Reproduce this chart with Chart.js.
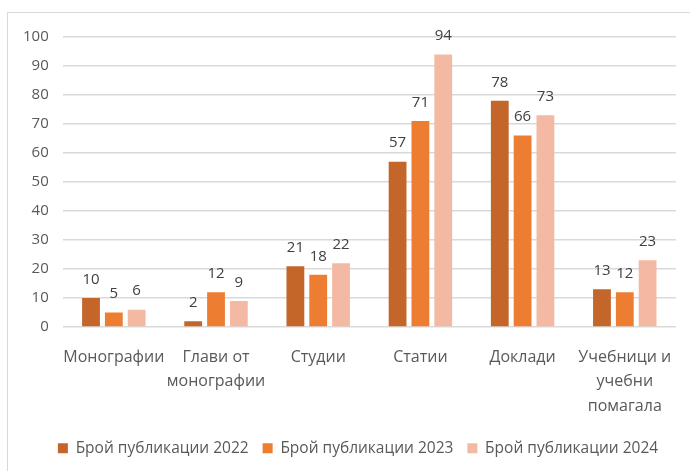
<!DOCTYPE html>
<html>
<head>
<meta charset="utf-8">
<script src="https://cdn.jsdelivr.net/npm/chart.js@4.4.1/dist/chart.umd.min.js"></script>
<style>
  html, body { margin: 0; padding: 0; background: #fff; }
  #wrap { position: relative; width: 690px; height: 471px; overflow: hidden; }
  #frame { position: absolute; left: 7px; top: 12px; width: 700px; height: 480px; border: 1px solid #D9D9D9; box-sizing: border-box; }
  canvas { position: absolute; left: 0; top: 0; }
</style>
</head>
<body>
<div id="wrap">
  <div id="frame"></div>
  <canvas id="chart" width="690" height="471"></canvas>
</div>
<script>
// Categories and series values
const categories = [
    'Монографии',
    ['Глави от', 'монографии'],
    'Студии',
    'Статии',
    'Доклади',
    ['Учебници и', 'учебни', 'помагала']
];
const seriesNames = ['Брой публикации 2022', 'Брой публикации 2023', 'Брой публикации 2024'];
const values2022 = [10, 2, 21, 57, 78, 13];
const values2023 = [5, 12, 18, 71, 66, 12];
const values2024 = [6, 9, 22, 94, 73, 23];
const yTicks = [0, 10, 20, 30, 40, 50, 60, 70, 80, 90, 100];

const colors = ['#C4652A', '#ED7D31', '#F4B9A2'];
const fontFamily = '"Open Sans", "Noto Sans", sans-serif';

// Draw value labels above each bar
const valueLabels = {
    id: 'valueLabels',
    afterDatasetsDraw(chart) {
        const ctx = chart.ctx;
        ctx.save();
        ctx.font = '15px ' + fontFamily;
        ctx.fillStyle = '#404040';
        ctx.textAlign = 'center';
        ctx.textBaseline = 'bottom';
        chart.data.datasets.forEach((ds, i) => {
            chart.getDatasetMeta(i).data.forEach((bar, j) => {
                ctx.fillText(ds.data[j], bar.x, bar.y - 11);
            });
        });
        ctx.restore();
    }
};

// Nudge the legend box a little to the right and up
const legendShift = {
    id: 'legendShift',
    afterLayout(chart) {
        const lg = chart.legend;
        lg.left += 13;
        lg.right += 13;
        lg.top -= 2;
        lg.bottom -= 2;
    }
};

const ctx = document.getElementById('chart').getContext('2d');
new Chart(ctx, {
    type: 'bar',
    data: {
        labels: categories,
        datasets: [
            { label: seriesNames[0], data: values2022, backgroundColor: colors[0] },
            { label: seriesNames[1], data: values2023, backgroundColor: colors[1] },
            { label: seriesNames[2], data: values2024, backgroundColor: colors[2] }
        ]
    },
    options: {
        responsive: false,
        animation: false,
        categoryPercentage: 0.67,
        barPercentage: 0.78,
        layout: {
            padding: { left: 9, right: 9, top: 37, bottom: 3 }
        },
        plugins: {
            legend: {
                position: 'bottom',
                labels: {
                    boxWidth: 10,
                    boxHeight: 10,
                    padding: 14,
                    color: '#595959',
                    font: { family: fontFamily, size: 15.5, lineHeight: 1 }
                }
            },
            tooltip: { enabled: false }
        },
        scales: {
            y: {
                min: 0,
                max: 100,
                afterBuildTicks(axis) {
                    axis.ticks = yTicks.map(v => ({ value: v }));
                },
                grid: { color: '#D9D9D9', lineWidth: 1.5, drawTicks: false },
                border: { display: false },
                ticks: {
                    padding: 14,
                    color: '#595959',
                    font: { family: fontFamily, size: 15 }
                }
            },
            x: {
                grid: { display: false, drawTicks: false },
                border: { display: false },
                afterFit(axis) {
                    axis.height -= 8;
                },
                ticks: {
                    padding: 18,
                    maxRotation: 0,
                    autoSkip: false,
                    color: '#595959',
                    font: { family: fontFamily, size: 16, lineHeight: 1.53 }
                }
            }
        }
    },
    plugins: [valueLabels, legendShift]
});
</script>
</body>
</html>
